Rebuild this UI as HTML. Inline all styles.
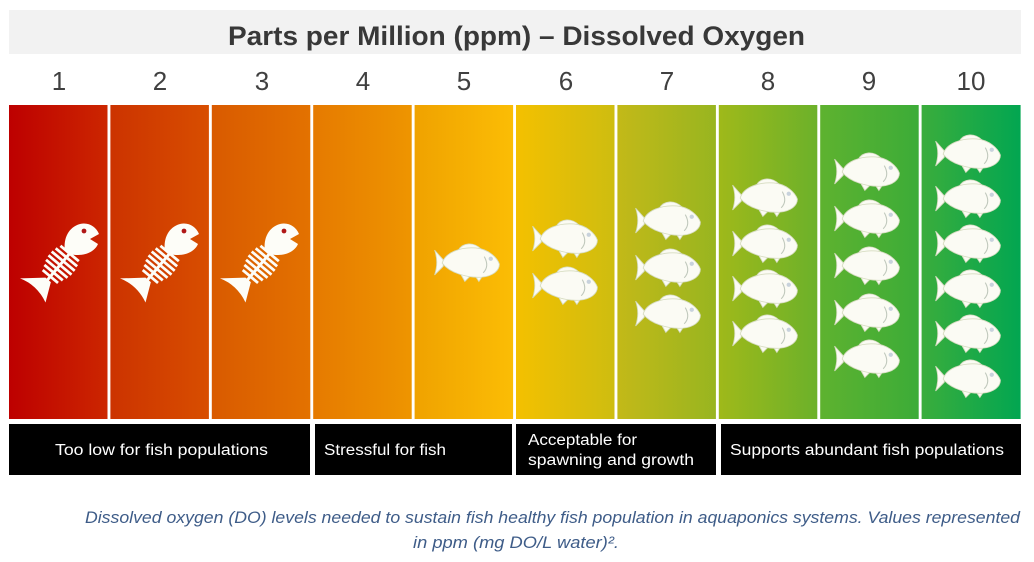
<!DOCTYPE html>
<html><head><meta charset="utf-8"><style>
html,body{margin:0;padding:0;background:#fff;}
svg{display:block;}
text{font-family:"Liberation Sans",sans-serif;}
</style></head><body>
<svg width="1034" height="562" viewBox="0 0 1034 562" xmlns="http://www.w3.org/2000/svg">
<defs>
<linearGradient id="g1"><stop offset="0" stop-color="#bd0000"/><stop offset="1" stop-color="#cc2600"/></linearGradient>
<linearGradient id="g2"><stop offset="0" stop-color="#cc3300"/><stop offset="1" stop-color="#d84e00"/></linearGradient>
<linearGradient id="g3"><stop offset="0" stop-color="#d95a00"/><stop offset="1" stop-color="#e37200"/></linearGradient>
<linearGradient id="g4"><stop offset="0" stop-color="#e67a00"/><stop offset="1" stop-color="#ee9500"/></linearGradient>
<linearGradient id="g5"><stop offset="0" stop-color="#f0a200"/><stop offset="1" stop-color="#fbbd05"/></linearGradient>
<linearGradient id="g6"><stop offset="0" stop-color="#f4c000"/><stop offset="1" stop-color="#cebd10"/></linearGradient>
<linearGradient id="g7"><stop offset="0" stop-color="#c3b918"/><stop offset="1" stop-color="#98b520"/></linearGradient>
<linearGradient id="g8"><stop offset="0" stop-color="#9fb91a"/><stop offset="1" stop-color="#6cb12a"/></linearGradient>
<linearGradient id="g9"><stop offset="0" stop-color="#5eb22f"/><stop offset="1" stop-color="#3cac38"/></linearGradient>
<linearGradient id="g10"><stop offset="0" stop-color="#3aad3c"/><stop offset="1" stop-color="#02a651"/></linearGradient>

<g id="fish0">
  <path d="M-30,-11 L-22,-2 L-22,4 L-30,12 Q-26,0 -30,-11 Z" fill="#fbfbf4" stroke="#d6dcc0" stroke-width="0.8"/>
  <path d="M-8,-11 C-4,-18 6,-19 13,-12 Z" fill="#fbfbf4" stroke="#d6dcc0" stroke-width="0.8"/>
  <path d="M-6,11 L-2,18 L4,12 Z M7,12 L11,18 L15,12 Z" fill="#fbfbf4" stroke="#d6dcc0" stroke-width="0.8"/>
  <path d="M-23,1 C-20,-9 -6,-14 8,-13 C20,-12 28,-4 30,2 C30,8 24,13 14,14 C0,15 -16,10 -23,1 Z" fill="#fbfbf4" stroke="#d6dcc0" stroke-width="0.8"/>
  <circle cx="22" cy="-3" r="2" fill="#c8d2dc"/>
  <path d="M16,-5 Q21,4 15,10" fill="none" stroke="#c0c8bc" stroke-width="1"/>
</g>
<g id="fish"><g transform="scale(1.08)"><use href="#fish0"/></g></g>

<g id="skel">
  <path d="M65,251 C63,238 69,227 80,224 C89,222 96,227 99,234 L90,239 L98,244 C95,251 87,255 78,255 C72,255 67,254 65,251 Z" fill="#fdfdf8"/>
  <circle cx="84" cy="231" r="2.4" fill="#b01818"/>
  <g transform="translate(60,265) rotate(-50)" stroke="#fdfdf8" fill="#fdfdf8">
    <path d="M-19,-3 L-36,-22 Q-30,-5 -38,13 L-19,4 Z" stroke="none"/>
    <line x1="-21" y1="0" x2="22" y2="0" stroke-width="3"/>
    <line x1="-15" y1="-10" x2="-15" y2="10" stroke-width="2.8"/>
    <line x1="-10" y1="-12" x2="-10" y2="12" stroke-width="2.8"/>
    <line x1="-5" y1="-14" x2="-5" y2="14" stroke-width="2.8"/>
    <line x1="0" y1="-15" x2="0" y2="15" stroke-width="2.8"/>
    <line x1="5" y1="-15" x2="5" y2="15" stroke-width="2.8"/>
    <line x1="10" y1="-14" x2="10" y2="14" stroke-width="2.8"/>
    <line x1="15" y1="-12" x2="15" y2="12" stroke-width="2.8"/>
  </g>
</g>
</defs>

<rect width="1034" height="562" fill="#fff"/>
<!-- title band -->
<rect x="9" y="10" width="1012" height="44" fill="#f2f2f2"/>
<text x="228" y="45" font-size="27" font-weight="bold" fill="#383838" textLength="577" lengthAdjust="spacingAndGlyphs">Parts per Million (ppm) – Dissolved Oxygen</text>

<!-- numbers -->
<g font-size="26" fill="#404040" text-anchor="middle">
<text x="59" y="90">1</text>
<text x="160" y="90">2</text>
<text x="262" y="90">3</text>
<text x="363" y="90">4</text>
<text x="464" y="90">5</text>
<text x="566" y="90">6</text>
<text x="667" y="90">7</text>
<text x="768" y="90">8</text>
<text x="869" y="90">9</text>
<text x="971" y="90">10</text>
</g>

<!-- columns -->
<rect x="9" y="105" width="98.5" height="314" fill="url(#g1)"/>
<rect x="110.4" y="105" width="98.5" height="314" fill="url(#g2)"/>
<rect x="211.8" y="105" width="98.5" height="314" fill="url(#g3)"/>
<rect x="313.2" y="105" width="98.5" height="314" fill="url(#g4)"/>
<rect x="414.6" y="105" width="98.5" height="314" fill="url(#g5)"/>
<rect x="516" y="105" width="98.5" height="314" fill="url(#g6)"/>
<rect x="617.4" y="105" width="98.5" height="314" fill="url(#g7)"/>
<rect x="718.8" y="105" width="98.5" height="314" fill="url(#g8)"/>
<rect x="820.2" y="105" width="98.5" height="314" fill="url(#g9)"/>
<rect x="921.6" y="105" width="99" height="314" fill="url(#g10)"/>

<!-- skeletons -->
<use href="#skel" x="0" y="0"/>
<use href="#skel" x="100" y="0"/>
<use href="#skel" x="200" y="0"/>

<!-- fish -->
<use href="#fish" x="467" y="262"/>
<use href="#fish" x="565" y="238"/>
<use href="#fish" x="565" y="285"/>
<use href="#fish" x="668" y="220"/>
<use href="#fish" x="668" y="267"/>
<use href="#fish" x="668" y="313"/>
<use href="#fish" x="765" y="197"/>
<use href="#fish" x="765" y="243"/>
<use href="#fish" x="765" y="288"/>
<use href="#fish" x="765" y="333"/>
<use href="#fish" x="867" y="171"/>
<use href="#fish" x="867" y="218"/>
<use href="#fish" x="867" y="265"/>
<use href="#fish" x="867" y="312"/>
<use href="#fish" x="867" y="358"/>
<use href="#fish" x="968" y="153"/>
<use href="#fish" x="968" y="198"/>
<use href="#fish" x="968" y="243"/>
<use href="#fish" x="968" y="288"/>
<use href="#fish" x="968" y="333"/>
<use href="#fish" x="968" y="378"/>

<!-- black labels -->
<rect x="9" y="424" width="301" height="51" fill="#000"/>
<rect x="315" y="424" width="197" height="51" fill="#000"/>
<rect x="516" y="424" width="200" height="51" fill="#000"/>
<rect x="721" y="424" width="300" height="51" fill="#000"/>
<g font-size="15.5" fill="#fff">
<text x="55" y="455" textLength="213" lengthAdjust="spacingAndGlyphs">Too low for fish populations</text>
<text x="324" y="455" textLength="122" lengthAdjust="spacingAndGlyphs">Stressful for fish</text>
<text x="528" y="445" textLength="109" lengthAdjust="spacingAndGlyphs">Acceptable for</text>
<text x="528" y="465" textLength="166" lengthAdjust="spacingAndGlyphs">spawning and growth</text>
<text x="730" y="455" textLength="274" lengthAdjust="spacingAndGlyphs">Supports abundant fish populations</text>
</g>

<!-- caption -->
<g font-size="17" font-style="italic" fill="#3e5c88">
<text x="85" y="523" textLength="935" lengthAdjust="spacingAndGlyphs">Dissolved oxygen (DO) levels needed to sustain fish healthy fish population in aquaponics systems. Values represented</text>
<text x="413" y="548" textLength="206" lengthAdjust="spacingAndGlyphs">in ppm (mg DO/L water)².</text>
</g>
</svg>
</body></html>
